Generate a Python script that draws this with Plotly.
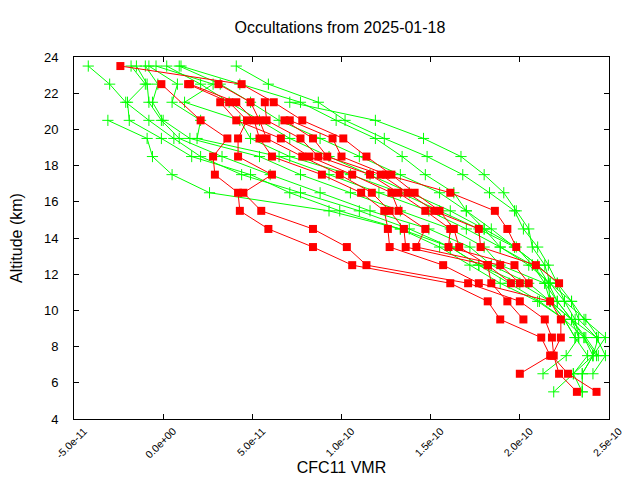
import plotly.graph_objects as go

# altitude grid of the retrievals (km), top to bottom
altitude_km = [23.5, 22.5, 21.5, 20.5, 19.5, 18.5, 17.5, 16.5, 15.5, 14.5,
               13.5, 12.5, 11.5, 10.5, 9.5, 8.5, 7.5, 6.5, 5.5]

# CFC11 VMR in units of 1e-10, one list per occultation, starting at its top altitude
red_1 = [-0.24, 0.44, 0.62, 0.78, 1.01, 1.14, 1.28, 1.41, 1.55, 1.63, 1.66, 1.82, 1.95]
red_2 = [-0.01, None, 0.21, 0.36, 0.28, 0.29, 0.42, 0.43, 0.59, 0.84, 1.06, 1.61, 1.82,
         1.89, 2.12, 2.17, 2.00]
red_3 = [0.14, 0.37, 0.47, 0.42, 0.42, 0.61, 0.45, 0.55, 0.84, 1.03, 1.14, 1.71, 2.00,
         2.14, 2.18, 2.19, 2.22, 2.32]
red_4 = [0.15, 0.41, 0.51, 0.54, 0.61, 0.89, 1.11, 1.24, 1.26, 1.27, 1.57, 1.77, 2.17,
         2.23, 2.23, 2.18, 2.27, 2.43]
red_5 = [0.31, 0.49, 0.54, 0.58, 0.78, 0.99, 1.17, 1.27, 1.35, 1.36, 1.82, 1.84, 1.93, 2.02]
red_6 = [0.32, 0.41, 0.66, 0.82, 1.06, 1.28, 1.32, 1.47, 1.42, 1.89, 2.00]
red_7 = [0.57, 0.58, 0.77, 0.87, 1.16, 1.32, 1.47, 1.61, 1.60, 1.97, 2.05]
red_8 = [0.68, 0.84, 0.92, 1.22, 1.37, 1.52, 1.77, 1.78, 2.09, 2.22]
red_9 = [0.71, 0.95, 1.00, 1.25, 1.61, 1.86, 1.93, 1.98]
red_tops = [23.5, 22.5, 22.5, 22.5, 22.5, 21.5, 21.5, 20.5, 20.5]

green_1 = [-0.42, -0.30, -0.21, -0.08, 0.06, 0.21, 0.44, 0.77, 1.10, 1.38, 1.61, 1.77,
           1.94, 2.11, 2.25, 2.31, 2.38, 2.30, 2.19]
green_2 = [-0.31, -0.09, -0.06, 0.05, 0.26, 0.93, 1.33, 1.61, 1.77, 2.00, 2.17, 2.29,
           2.33, 2.26, 2.13]
green_3 = [-0.18, -0.10, -0.20, -0.19, -0.01, 0.16, 0.49, 0.71, 0.99, 1.33, 1.55, 1.72,
           1.89, 2.10, 2.25, 2.36, 2.41, 2.35, 2.35]
green_4 = [-0.15, -0.09, -0.08, -0.01, 0.09, 0.33, 0.60, 0.88, 1.16, 1.49, 1.72, 1.84,
           2.05, 2.17, 2.29, 2.37, 2.44]
green_5 = [-0.10, -0.03, -0.06, 0.00, 0.15, 0.54, 0.77, 1.05, 1.33, 1.61, 1.80, 1.89,
           2.14, 2.21, 2.29, 2.43, 2.48, 2.41]
green_6 = [-0.08, 0.08, 0.05, 0.21, 0.19, 0.65, 0.93, 1.21, 1.49, 1.70, 1.89, 2.07,
           2.16, 2.17, 2.25]
green_7 = [-0.04, 0.28, 0.12, 0.43, 0.49, 0.71, 1.05, 1.33, 1.55, 1.77, 1.97, 2.10,
           2.21, 2.25, 2.31, 2.33]
green_8 = [0.02, 0.21, 0.37, 0.54, 0.71, 0.93, 1.16, 1.38, 1.61, 1.80, 1.98, 2.07,
           2.14, 2.17, 2.25, 2.31]
green_9 = [0.09, 0.32, 0.49, 0.65, 0.88, 1.10, 1.33, 1.55, 1.70, 1.84, 1.97, 2.10,
           2.16, 2.21, 2.29, 2.36, 2.43]
green_10 = [0.10, 0.43, 0.77, 0.97, 1.19, 1.34, 1.47, 1.63, 1.70, 1.80, 1.89, 2.05,
            2.17, 2.25, 2.37, 2.44, 2.41, 2.35]
green_11 = [0.41, 0.59, 0.87, 1.02, 1.24, 1.48, 1.68, 1.83, 1.97, 2.02, 2.10, 2.16,
            2.21, 2.29, 2.36, 2.48, 2.41, 2.30, 2.35]
green_12 = [0.71, 1.19, 1.46, 1.67, 1.80, 1.91, 1.98, 2.05, 2.07, 2.14, 2.17, 2.29, 2.33, 2.43]
green_tops = [23.5, 20.5, 23.5, 23.5, 23.5, 23.5, 23.5, 23.5, 23.5, 23.5, 23.5, 21.5]

x_tick_vals = [-5e-11, 0, 5e-11, 1e-10, 1.5e-10, 2e-10, 2.5e-10]
x_tick_text = ["-5.0e-11", "0.0e+00", "5.0e-11", "1.0e-10", "1.5e-10", "2.0e-10", "2.5e-10"]
y_tick_vals = [4, 6, 8, 10, 12, 14, 16, 18, 20, 22, 24]

RED = "#ff0000"
GREEN = "#00ff00"


def add_profile(fig, top, vmr, color, marker):
    i0 = altitude_km.index(top)
    alts = altitude_km[i0:i0 + len(vmr)]
    xs = [None if v is None else v * 1e-10 for v in vmr]
    fig.add_trace(go.Scatter(x=xs, y=alts, mode="lines+markers", connectgaps=True,
                             line=dict(color=color, width=1), marker=marker,
                             showlegend=False, hoverinfo="skip"))


fig = go.Figure()

green_marker = dict(symbol="cross-thin", size=8, color=GREEN, line=dict(color=GREEN, width=1))
red_marker = dict(symbol="square", size=8, color=RED, line=dict(width=0))

greens = [green_1, green_2, green_3, green_4, green_5, green_6, green_7, green_8,
          green_9, green_10, green_11, green_12]
reds = [red_1, red_2, red_3, red_4, red_5, red_6, red_7, red_8, red_9]

for top, prof in zip(green_tops, greens):
    add_profile(fig, top, prof, GREEN, green_marker)
for top, prof in zip(red_tops, reds):
    add_profile(fig, top, prof, RED, red_marker)

axis_common = dict(showline=True, linecolor="black", linewidth=1, mirror="ticks",
                   ticks="inside", ticklen=5, tickcolor="black", showgrid=False,
                   zeroline=False, automargin=False)

fig.update_xaxes(range=[-5e-11, 2.5e-10], tickvals=x_tick_vals, ticktext=x_tick_text,
                 tickangle=-45, tickfont=dict(size=10.5, color="black"),
                 ticklabelstandoff=1, ticklabelshift=10,
                 title=dict(text="CFC11 VMR", font=dict(size=16, color="black"), standoff=0),
                 **axis_common)
fig.update_yaxes(range=[4, 24], tickvals=y_tick_vals,
                 tickfont=dict(size=13, color="black"), ticklabelstandoff=12,
                 title=dict(text="Altitude (km)", font=dict(size=16, color="black"), standoff=20),
                 **axis_common)

# the page puts the figure 8 px in from the top-left corner, margins allow for it
fig.update_layout(
    width=640, height=480,
    margin=dict(l=66, r=39, t=49, b=69, autoexpand=False),
    paper_bgcolor="white", plot_bgcolor="white",
    font=dict(family="Liberation Sans, Arial, sans-serif", color="black"),
    title=dict(text="Occultations from 2025-01-18", x=332 / 640, xanchor="center",
               xref="container", yref="container", automargin=False,
               y=1 - 19 / 480, yanchor="middle", font=dict(size=16, color="black")),
)

fig.write_html("out.html")
